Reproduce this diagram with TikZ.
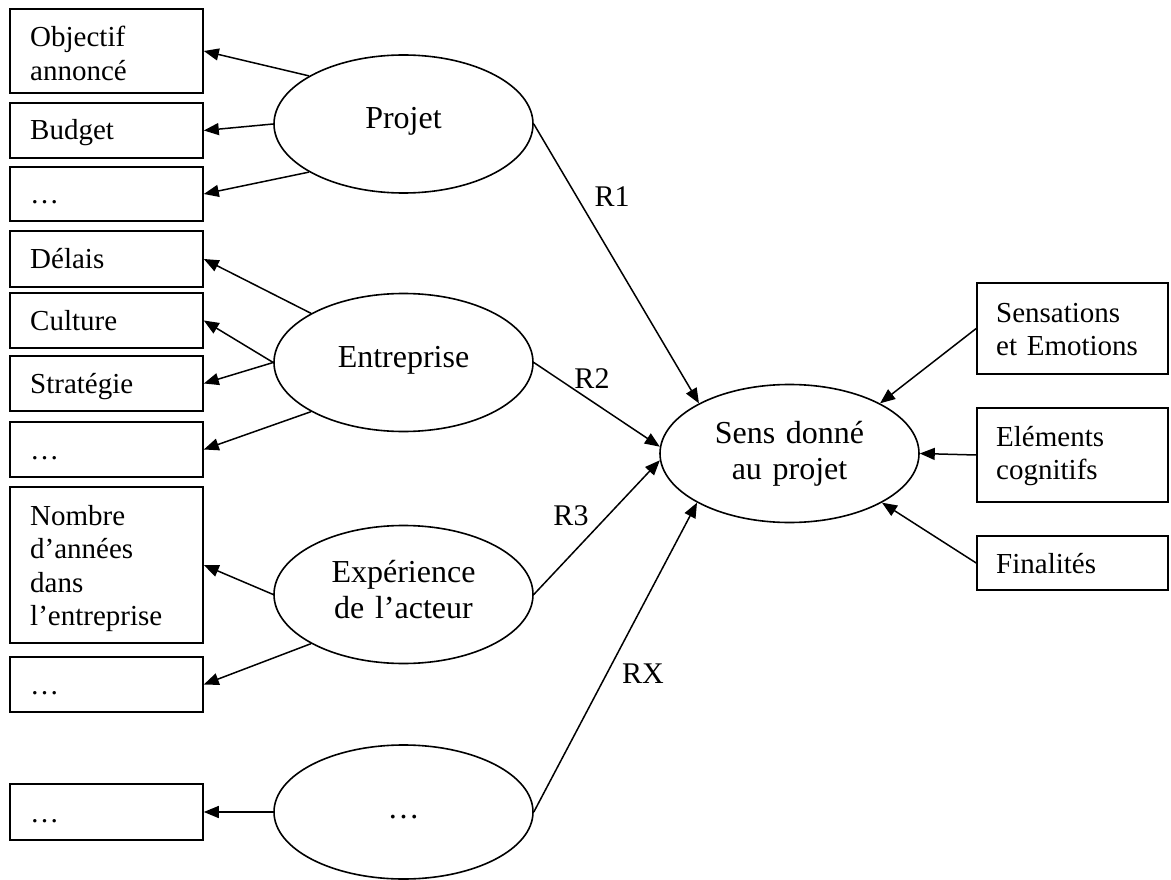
\documentclass[tikz,border=0pt]{standalone}
\usepackage{fontspec}
\setmainfont{Liberation Serif}
\usetikzlibrary{arrows.meta,shapes.geometric}
\begin{document}
\begin{tikzpicture}[x=1pt,y=-1pt,
  box/.style={draw, line width=1.6pt, rectangle, inner sep=0pt},
  lbox/.style={box, minimum width=193pt},
  rbox/.style={box, minimum width=191pt},
  ell/.style={draw, line width=1.6pt, ellipse, inner sep=0pt, minimum width=259pt, minimum height=138pt},
  btext/.style={anchor=base west, inner sep=0pt, text width=175pt, align=left, font=\fontsize{29}{33.5}\selectfont},
  etext/.style={anchor=base, inner sep=0pt, text width=240pt, align=center, font=\fontsize{32}{36.5}\selectfont},
  lbl/.style={anchor=base, inner sep=0pt, font=\fontsize{30}{36}\selectfont},
  arr/.style={-{Triangle[length=15pt,width=12pt]}, line width=1.5pt}
]
\useasboundingbox (0,0) rectangle (1171,880);
\fill[white] (0,0) rectangle (1171,880);

% left boxes
\node[lbox, minimum height=84pt] (b1) at (106.5,51) {};
\node[lbox, minimum height=55pt] (b2) at (106.5,130.5) {};
\node[lbox, minimum height=54pt] (b3) at (106.5,194) {};
\node[lbox, minimum height=56pt] (b4) at (106.5,259) {};
\node[lbox, minimum height=55pt] (b5) at (106.5,320.5) {};
\node[lbox, minimum height=55pt] (b6) at (106.5,383.5) {};
\node[lbox, minimum height=55pt] (b7) at (106.5,449.5) {};
\node[lbox, minimum height=156pt] (b8) at (106.5,565) {};
\node[lbox, minimum height=55pt] (b9) at (106.5,684.5) {};
\node[lbox, minimum height=56pt] (b10) at (106.5,812) {};

\node[btext] (t1) at (30,47) {Objectif\\annoncé};
\node[btext] (t2) at (30,140) {Budget};
\node[btext] (t3) at (30,204) {…};
\node[btext] (t4) at (30,269) {Délais};
\node[btext] (t5) at (30,330) {Culture};
\node[btext] (t6) at (30,393) {Stratégie};
\node[btext] (t7) at (30,459) {…};
\node[btext] (t8) at (30,525) {Nombre\\d’années\\dans\\l’entreprise};
\node[btext] (t9) at (30,694) {…};
\node[btext] (t10) at (30,822) {…};

% right boxes
\node[rbox, minimum height=91pt] (r1) at (1072.5,328.5) {};
\node[rbox, minimum height=94pt] (r2) at (1072.5,455) {};
\node[rbox, minimum height=54pt] (r3) at (1072.5,563) {};
\node[btext] (s1) at (996,322) {Sensations\\et Emotions};
\node[btext] (s2) at (996,446) {Eléments\\cognitifs};
\node[btext] (s3) at (996,573) {Finalités};

% ellipses
\node[ell] (proj) at (403.5,124) {};
\node[ell] (ent) at (403.5,362.5) {};
\node[ell] (exp) at (403.5,594.5) {};
\node[ell, minimum height=134pt] (bot) at (403.5,812) {};
\node[ell] (sens) at (789.5,453.5) {};

\node[etext] (pt) at (403.5,129) {Projet};
\node[etext] (et) at (403.5,367) {Entreprise};
\node[etext] (xt) at (403.5,582) {Expérience\\de l’acteur};
\node[etext] (bt) at (403.5,818) {…};
\node[etext] (st) at (789.5,443) {Sens donné\\au projet};

% labels
\node[lbl] (l1) at (612,207) {R1};
\node[lbl] (l2) at (592,388) {R2};
\node[lbl] (l3) at (571,525) {R3};
\node[lbl] (lx) at (643,683) {RX};

% connectors
\draw[arr] (proj.153) -- (b1.east);
\draw[arr] (proj.180) -- (b2.east);
\draw[arr] (proj.207) -- (b3.east);
\draw[arr] (ent.152) -- (b4.east);
\draw[arr] (ent.180) -- (b5.east);
\draw[arr] (ent.180) -- (b6.east);
\draw[arr] (ent.208) -- (b7.east);
\draw[arr] (exp.180) -- (b8.east);
\draw[arr] (exp.208) -- (b9.east);
\draw[arr] (bot.180) -- (b10.east);

\draw[arr] (proj.east) -- (sens.151);
\draw[arr] (ent.east) -- (sens.177);
\draw[arr] (exp.east) -- (sens.183);
\draw[arr] (bot.east) -- (sens.208);
\draw[arr] (r1.west) -- (sens.29);
\draw[arr] (r2.west) -- (sens.0);
\draw[arr] (r3.west) -- (sens.-28);
\end{tikzpicture}
\end{document}
